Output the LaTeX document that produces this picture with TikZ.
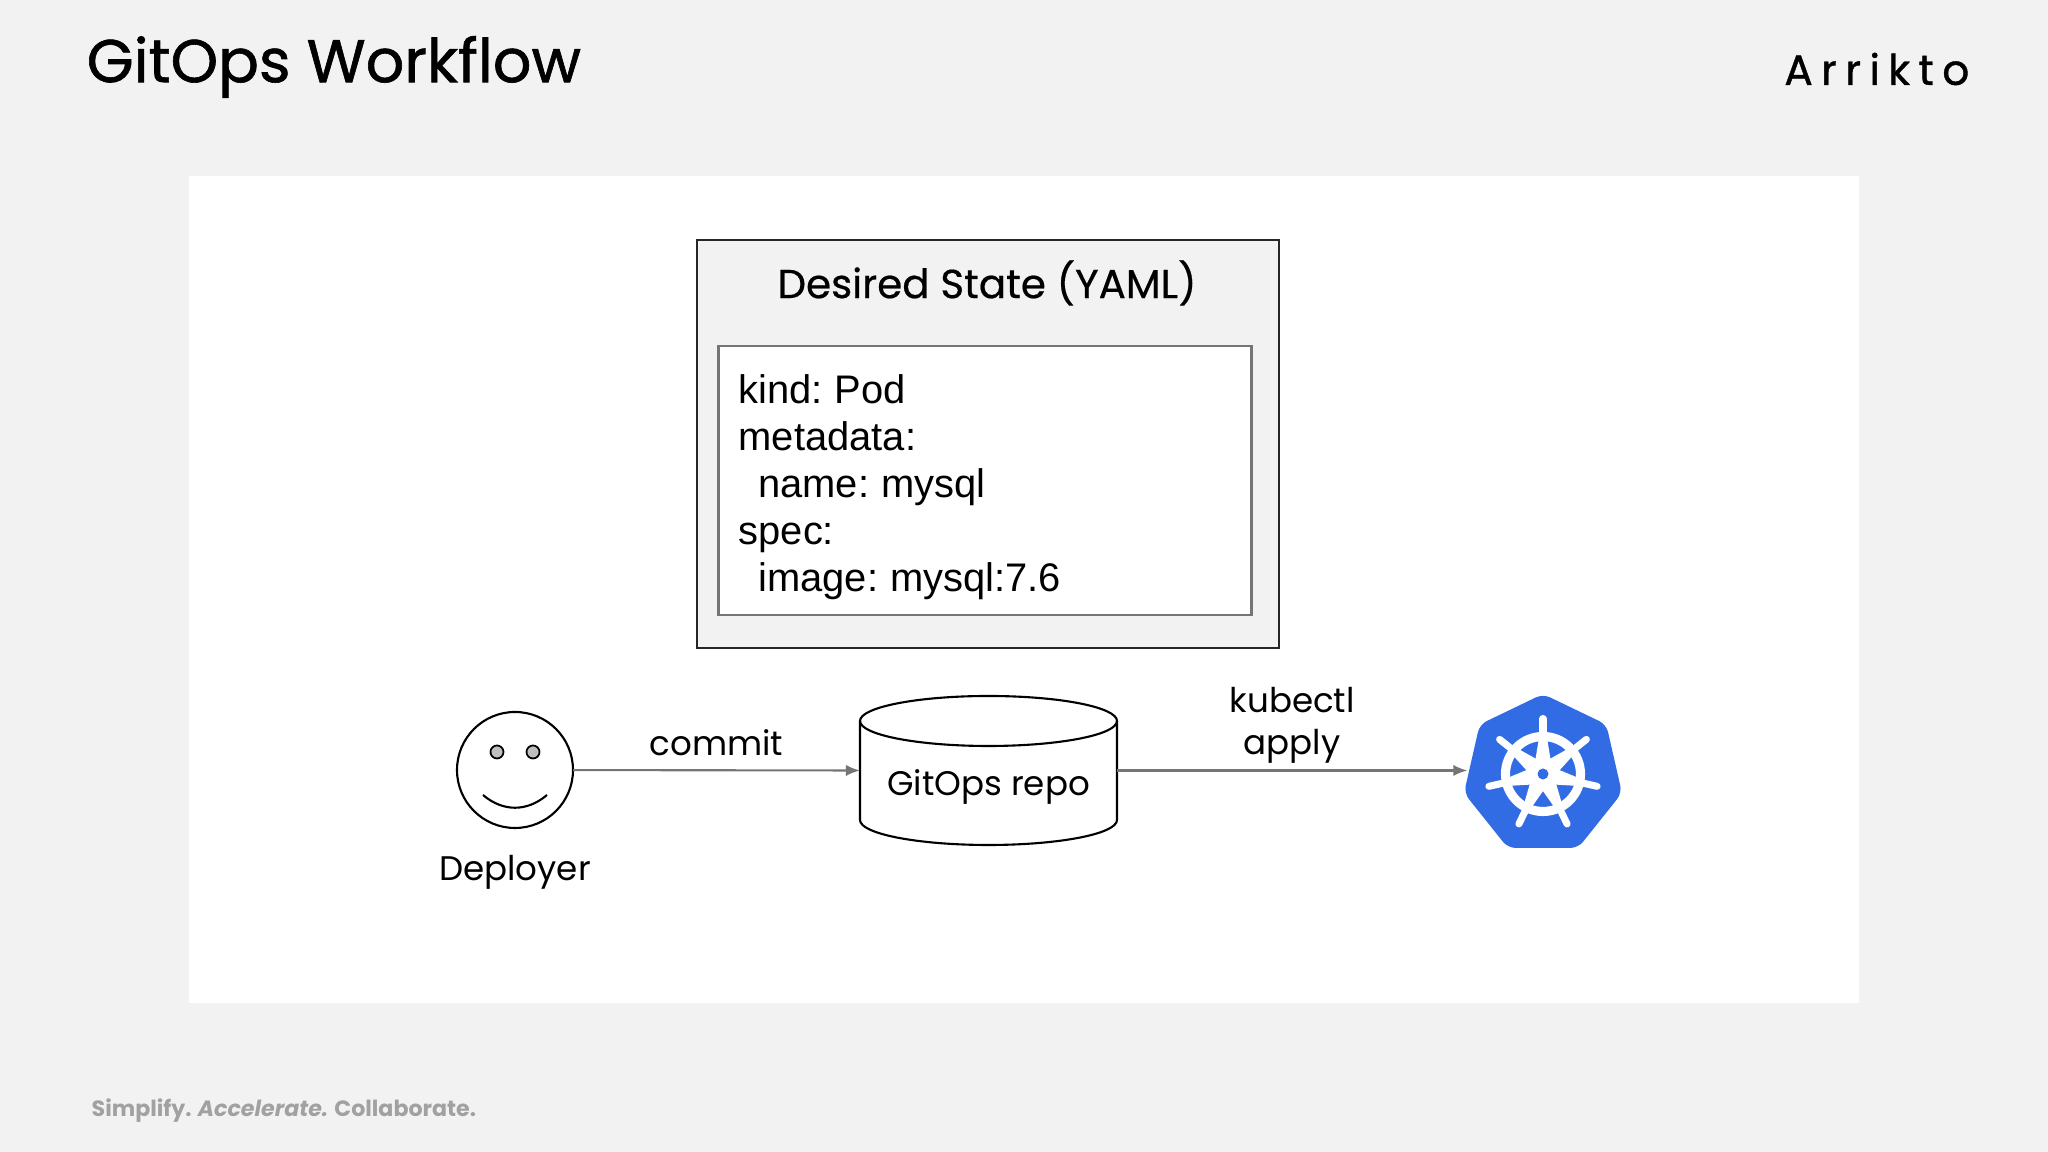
\documentclass[tikz,border=0pt]{standalone}
\usepackage{fontspec}
\setmainfont{Poppins}
\newfontfamily\headfont[FakeBold=0.5]{Poppins}
\newfontfamily\titlefont[FakeBold=1]{Poppins}
\newfontfamily\yamlfont[WordSpace=0.75]{Liberation Sans}
\usetikzlibrary{arrows.meta}
\usetikzlibrary{shapes.geometric}
\definecolor{slidegrey}{HTML}{F2F2F2}
\definecolor{flowgrey}{HTML}{757575}
\definecolor{kubeblue}{HTML}{326CE5}
\tikzset{
    flow/.style={draw=flowgrey, line width=0.6pt, -{Latex[length=4pt,width=3.2pt]}},
    outline/.style={draw=black, line width=0.6pt},
    caption/.style={font=\fontsize{9.7}{11.9}\selectfont, inner sep=0pt, align=center},
    kube/.style={regular polygon, regular polygon sides=7, fill=kubeblue,
        minimum size=1.62cm, inner sep=0pt, rounded corners=2.2pt},
    spoke/.style={draw=white, line width=2pt, line cap=round}
}
\begin{document}
\begin{tikzpicture}
\useasboundingbox (0,0) rectangle (20.48,11.52);
\fill[slidegrey] (0,0) rectangle (20.48,11.52);
\fill[white] (1.885,1.49) rectangle (18.59,9.76);
\node[anchor=west, inner sep=0pt, font=\titlefont\fontsize{17.2}{21}\selectfont] (title) at (0.86,10.85) {GitOps Workflow};
\node[anchor=east, inner sep=0pt, font=\titlefont\fontsize{12}{14}\selectfont] (brand) at (19.70,10.83)
  {A\hspace{2.4pt}r\hspace{2.4pt}r\hspace{2.4pt}i\hspace{2.4pt}k\hspace{2.4pt}t\hspace{2.4pt}o};
\node[anchor=west, inner sep=0pt, text=black!37, font=\fontsize{6.3}{8}\selectfont\bfseries] (tagline) at (0.91,0.41)
  {Simplify. \textit{Accelerate.} Collaborate.};

\node[draw=black!85, line width=0.6pt, fill=slidegrey, minimum width=5.82cm, minimum height=4.08cm, inner sep=0pt] (state) at (9.88,7.08) {};
\node[inner sep=0pt, font=\headfont\fontsize{11.5}{14}\selectfont] (statetitle) at (9.87,8.69) {Desired State (YAML)};
\node[draw=flowgrey, line width=0.6pt, fill=white, minimum width=5.33cm, minimum height=2.69cm, inner sep=0pt] (spec) at (9.85,6.715) {};
\node[anchor=north west, inner sep=0pt, align=left, font=\yamlfont\fontsize{11.35}{13.4}\selectfont] (yaml) at (7.38,7.78)
  {kind: Pod\\metadata:\\\hspace{5.6pt}name: mysql\\spec:\\\hspace{5.6pt}image: mysql:7.6};

\node[circle, outline, minimum size=1.16cm, inner sep=0pt, outer sep=0pt] (deployer) at (5.15,3.82) {};
\node[circle, draw=black, fill=black!25, line width=0.5pt, minimum size=0.13cm, inner sep=0pt] (eyeleft) at (4.97,4.00) {};
\node[circle, draw=black, fill=black!25, line width=0.5pt, minimum size=0.13cm, inner sep=0pt] (eyeright) at (5.33,4.00) {};
\draw[outline] (4.83,3.57) .. controls (5.03,3.40) and (5.27,3.40) .. (5.47,3.57);
\node[caption] (deployerlabel) at (5.15,2.80) {Deployer};

\node[minimum width=2.57cm, minimum height=1.49cm, inner sep=0pt, outer sep=0pt] (repo) at (9.885,3.815) {};
\draw[outline] (repo.north west) ++(0,-0.25) -- ++(0,-0.99) arc[start angle=180, end angle=360, x radius=1.285, y radius=0.25] -- ++(0,0.99);
\draw[outline] (repo.north) ++(0,-0.25) ellipse [x radius=1.285, y radius=0.25];
\node[caption] (repolabel) at (9.885,3.65) {GitOps repo};

\node[kube] (kube) at (15.43,3.77) {};
\fill[white] (15.43,3.78) circle (0.16);
\draw[white, line width=2.6pt] (15.43,3.78) circle (0.375);
\foreach \ang in {90,38.57,-12.86,-64.29,-115.71,-167.14,141.43} {
  \begin{scope}[shift={(15.43,3.78)}, rotate=\ang]
  \fill[white] (0,-0.10) -- (0.36,-0.04) -- (0.36,0.04) -- (0,0.10) -- cycle;
  \draw[spoke] (0.3,0) -- (0.555,0);
  \end{scope}
}
\fill[kubeblue] (15.43,3.78) circle (0.055);

\draw[flow] (deployer) -- (repo.west) node[midway, above=0.13cm, caption] (commit) {commit};
\draw[flow] (repo.east) -- (kube.west |- repo.east) node[midway, above=0.065cm, caption] (apply) {kubectl\\apply};
\end{tikzpicture}
\end{document}
